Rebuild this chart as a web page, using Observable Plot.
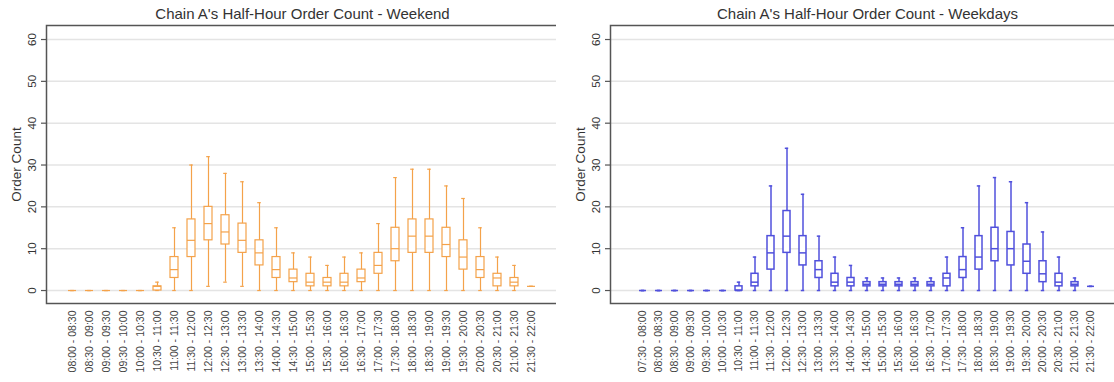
<!DOCTYPE html>
<html><head><meta charset="utf-8">
<script src="https://cdn.jsdelivr.net/npm/d3@7"></script>
<script src="https://cdn.jsdelivr.net/npm/@observablehq/plot@0.6"></script>
<style>
html,body{margin:0;padding:0;background:#fff;width:1114px;height:382px;overflow:hidden;}
#wrap{position:relative;width:1114px;height:382px;overflow:hidden;}
#left{position:absolute;left:0;top:0;width:559px;}
#right{position:absolute;left:556px;top:0;width:569px;}
svg{max-width:none !important;}
</style></head><body><div id="wrap"><div id="left"></div><div id="right"></div></div>
<script>
// ---- Weekend ----
const slotsWeekend = ["08:00 - 08:30","08:30 - 09:00","09:00 - 09:30","09:30 - 10:00","10:00 - 10:30","10:30 - 11:00","11:00 - 11:30","11:30 - 12:00","12:00 - 12:30","12:30 - 13:00","13:00 - 13:30","13:30 - 14:00","14:00 - 14:30","14:30 - 15:00","15:00 - 15:30","15:30 - 16:00","16:00 - 16:30","16:30 - 17:00","17:00 - 17:30","17:30 - 18:00","18:00 - 18:30","18:30 - 19:00","19:00 - 19:30","19:30 - 20:00","20:00 - 20:30","20:30 - 21:00","21:00 - 21:30","21:30 - 22:00"];
const minWeekend = [0,0,0,0,0,0,0,0,1,2,1,0,0,0,0,0,0,0,0,0,0,0,0,0,0,0,0,1];
const q1Weekend  = [0,0,0,0,0,0,3,8,12,11,9,6,3,2,1,1,1,2,4,7,9,9,8,5,3,1,1,1];
const medWeekend = [0,0,0,0,0,1,5,12,16,14,12,9,5,3,2,2,2,3,6,10,13,13,11,8,5,3,2,1];
const q3Weekend  = [0,0,0,0,0,1,8,17,20,18,16,12,8,5,4,3,4,5,9,15,17,17,15,12,8,4,3,1];
const maxWeekend = [0,0,0,0,0,2,15,30,32,28,26,21,15,9,8,6,8,9,16,27,29,29,25,22,15,8,6,1];

// ---- Weekdays ----
const slotsWeekdays = ["07:30 - 08:00","08:00 - 08:30","08:30 - 09:00","09:00 - 09:30","09:30 - 10:00","10:00 - 10:30","10:30 - 11:00","11:00 - 11:30","11:30 - 12:00","12:00 - 12:30","12:30 - 13:00","13:00 - 13:30","13:30 - 14:00","14:00 - 14:30","14:30 - 15:00","15:00 - 15:30","15:30 - 16:00","16:00 - 16:30","16:30 - 17:00","17:00 - 17:30","17:30 - 18:00","18:00 - 18:30","18:30 - 19:00","19:00 - 19:30","19:30 - 20:00","20:00 - 20:30","20:30 - 21:00","21:00 - 21:30","21:30 - 22:00"];
const minWeekdays = [0,0,0,0,0,0,0,0,0,0,0,0,0,0,0,0,0,0,0,0,0,0,0,0,0,0,0,0,1];
const q1Weekdays  = [0,0,0,0,0,0,0,1,5,9,6,3,1,1,1,1,1,1,1,1,3,5,7,6,4,2,1,1,1];
const medWeekdays = [0,0,0,0,0,0,0,2,9,13,9,5,2,2,1.5,1.5,1.5,1.5,1.5,3,5,8,10,10,7,4,2,1.5,1];
const q3Weekdays  = [0,0,0,0,0,0,1,4,13,19,13,7,4,3,2,2,2,2,2,4,8,13,15,14,11,7,4,2,1];
const maxWeekdays = [0,0,0,0,0,0,2,8,25,34,23,13,8,6,3,3,3,3,3,8,15,25,27,26,21,14,8,3,1];

const yTicks = [0, 10, 20, 30, 40, 50, 60];

function panel({title, slots, mn, q1, md, q3, mx, color, sw, width, marginLeft, paddingInner, paddingOuter, capInset}) {
  const data = slots.map((t, i) => ({t, min: mn[i], q1: q1[i], med: md[i], q3: q3[i], max: mx[i]}));
  return Plot.plot({
    width, height: 382,
    marginLeft, marginRight: 1, marginTop: 25, marginBottom: 79,
    style: {fontFamily: "'Liberation Sans', Arial, Helvetica, sans-serif", background: "white", overflow: "visible", maxWidth: "none"},
    x: {type: "band", domain: slots, paddingInner, paddingOuter, axis: null},
    y: {domain: [-3.1, 63.35], axis: null},
    marks: [
      Plot.gridY(yTicks, {stroke: "#e4e4e4", strokeOpacity: 1, strokeWidth: 1.5}),
      Plot.axisY(yTicks, {tickSize: 5, tickFormat: () => "", stroke: "#555", strokeWidth: 1.2}),
      Plot.text(yTicks, {y: d => d, frameAnchor: "left", rotate: -90, textAnchor: "middle", lineAnchor: "middle", dx: -14, fontSize: 11.5, fill: "#333"}),
      Plot.text(["Order Count"], {frameAnchor: "left", rotate: -90, textAnchor: "middle", lineAnchor: "middle", dx: -30, fontSize: 13.5, fill: "#333"}),
      Plot.text([title], {frameAnchor: "top", textAnchor: "middle", lineAnchor: "middle", dy: -11, fontSize: 15, fill: "#333"}),
      Plot.text(slots, {x: d => d, frameAnchor: "bottom", rotate: -90, textAnchor: "end", lineAnchor: "middle", dy: 7, fontSize: 10.5, fill: "#444"}),
      Plot.ruleX(data, {x: "t", y1: "min", y2: "max", stroke: color, strokeWidth: sw}),
      Plot.tickY(data, {x: "t", y: "max", stroke: color, strokeWidth: sw, insetLeft: capInset, insetRight: capInset}),
      Plot.tickY(data, {x: "t", y: "min", stroke: color, strokeWidth: sw, insetLeft: capInset, insetRight: capInset}),
      Plot.barY(data, {x: "t", y1: "q1", y2: "q3", fill: "white", stroke: color, strokeWidth: sw}),
      Plot.tickY(data, {x: "t", y: "med", stroke: color, strokeWidth: sw}),
      Plot.frame({stroke: "#555", strokeWidth: 1.5})
    ]
  });
}

document.getElementById("left").append(panel({
  title: "Chain A's Half-Hour Order Count - Weekend",
  slots: slotsWeekend, mn: minWeekend, q1: q1Weekend, md: medWeekend, q3: q3Weekend, mx: maxWeekend,
  color: "#F4A24A", sw: 1.2, width: 559, marginLeft: 46, paddingInner: 0.52, paddingOuter: 0.945, capInset: 2.2
}));
document.getElementById("right").append(panel({
  title: "Chain A's Half-Hour Order Count - Weekdays",
  slots: slotsWeekdays, mn: minWeekdays, q1: q1Weekdays, md: medWeekdays, q3: q3Weekdays, mx: maxWeekdays,
  color: "#5050DC", sw: 1.5, width: 569, marginLeft: 54, paddingInner: 0.56, paddingOuter: 1.08, capInset: 1.8
}));
</script>
</body></html>
